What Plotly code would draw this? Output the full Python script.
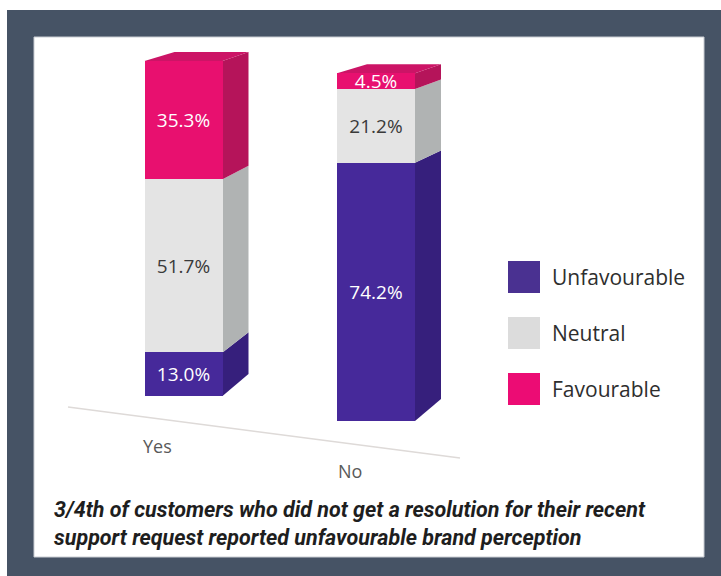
import plotly.graph_objects as go

# ---- data -------------------------------------------------------------
categories = ["Yes", "No"]
series_names = ["Unfavourable", "Neutral", "Favourable"]
unfavourable = [13.0, 74.2]
neutral = [51.7, 21.2]
favourable = [35.3, 4.5]
series_values = [unfavourable, neutral, favourable]

caption = ("3/4th of customers who did not get a resolution for their recent<br>"
           "support request reported unfavourable brand perception")

# ---- styling ----------------------------------------------------------
W, H = 721, 576
front_colors = ["#46299a", "#e4e4e4", "#e8106f"]
side_colors = ["#361f7c", "#b0b3b3", "#b5145a"]
top_color = "#cc1466"
legend_colors = ["#4a3191", "#dcdcdc", "#ec0c74"]
text_colors = ["white", "#3a3a3a", "white"]
slate = "#465365"

# pixel anchors (bottom, 100% line) of each bar's own perspective scale
bar_anchor_px = [(396, 61), (421, 73)]
unit_px = 192.5          # pixels between bar centres
first_center_px = 183.5
bar_width = 78 / unit_px
depth_dx = 26 / unit_px  # horizontal depth of side faces (x units)


def axis_range(base_px, top_px):
    f0 = 1 - base_px / H
    f1 = 1 - top_px / H
    span = 100 / (f1 - f0)
    r0 = -f0 * span
    return [r0, r0 + span], span / H


ranges, per_px = zip(*[axis_range(b, t) for b, t in bar_anchor_px])
axis_ids = ["y", "y2"]


def px_x(p):
    return p / W


def px_y(p):
    return 1 - p / H


fig = go.Figure()
shapes = []

# frame and white card
shapes.append(dict(type="rect", xref="paper", yref="paper", layer="below",
                   x0=px_x(7), x1=1, y0=0, y1=px_y(10),
                   fillcolor=slate, line=dict(width=0)))
shapes.append(dict(type="rect", xref="paper", yref="paper", layer="below",
                   x0=px_x(34), x1=px_x(704), y0=px_y(557), y1=px_y(37),
                   fillcolor="white", line=dict(color="#c9cdd3", width=1)))
# floor line of the 3D chart
shapes.append(dict(type="line", xref="paper", yref="paper", layer="below",
                   x0=px_x(68), y0=px_y(407), x1=px_x(460), y1=px_y(458),
                   line=dict(color="#dedad8", width=1.5)))

# bars (front faces) + side/top faces
for ci, cat in enumerate(categories):
    k = per_px[ci]
    yid = axis_ids[ci]
    xr = ci + bar_width / 2
    xl = ci - bar_width / 2
    cum = 0.0

    def back(v):
        # depth rise shrinks towards the top (perspective)
        return v + (22 - 13 * v / 100) * k

    for si, name in enumerate(series_names):
        v = series_values[si][ci]
        fig.add_trace(go.Bar(
            x=[ci], y=[v], name=name, yaxis=yid, width=bar_width,
            marker=dict(color=front_colors[si], line=dict(width=0)),
            texttemplate="%{y:.1f}%", textposition="inside",
            insidetextanchor="middle", constraintext="none", textangle=0,
            textfont=dict(family="Open Sans", size=19, color=text_colors[si]),
            showlegend=False, hoverinfo="skip",
        ))
        v0, v1 = cum, cum + v
        shapes.append(dict(
            type="path", xref="x", yref=yid, layer="below",
            path=(f"M {xr},{v0} L {xr},{v1} L {xr + depth_dx},{back(v1)} "
                  f"L {xr + depth_dx},{back(v0)} Z"),
            fillcolor=side_colors[si], line=dict(width=0),
        ))
        cum = v1
    # top face
    t = cum
    tb = t + 9 * k
    shapes.append(dict(
        type="path", xref="x", yref=yid, layer="below",
        path=(f"M {xl},{t} L {xr},{t} L {xr + depth_dx},{tb} "
              f"L {xl + depth_dx + 4 / unit_px},{tb} Z"),
        fillcolor=top_color, line=dict(width=0),
    ))

annotations = []
# category labels under each bar
for ci, cat in enumerate(categories):
    annotations.append(dict(
        x=ci, y=0, xref="x", yref=axis_ids[ci], text=cat, showarrow=False,
        xshift=-26, yshift=-50, yanchor="middle",
        font=dict(family="Open Sans", size=18, color="#595959"),
    ))

# legend (large swatches)
legend_top_px = 261
for si, name in enumerate(series_names):
    y0 = legend_top_px + 56 * si
    shapes.append(dict(type="rect", xref="paper", yref="paper",
                       x0=px_x(508), x1=px_x(540), y0=px_y(y0 + 32), y1=px_y(y0),
                       fillcolor=legend_colors[si], line=dict(width=0)))
    annotations.append(dict(
        x=px_x(550), y=px_y(y0 + 16), xref="paper", yref="paper", text=name,
        showarrow=False, xanchor="left", yanchor="middle",
        font=dict(family="Open Sans", size=21, color="#2e2e2e"),
    ))

# caption
annotations.append(dict(
    x=px_x(52), y=px_y(523), xref="paper", yref="paper",
    text=f"<b><i>{caption}</i></b>", showarrow=False, align="left",
    xanchor="left", yanchor="middle",
    font=dict(family="Roboto", size=21.5, color="#1e1e1e"),
))

fig.update_layout(
    width=W, height=H, margin=dict(l=0, r=0, t=0, b=0),
    paper_bgcolor="white", plot_bgcolor="rgba(0,0,0,0)",
    barmode="stack", showlegend=False,
    xaxis=dict(range=[-first_center_px / unit_px, (W - first_center_px) / unit_px],
               visible=False, fixedrange=True),
    yaxis=dict(range=list(ranges[0]), visible=False, fixedrange=True),
    yaxis2=dict(range=list(ranges[1]), visible=False, overlaying="y",
                fixedrange=True),
    shapes=shapes, annotations=annotations,
)

fig.write_html("out.html")
